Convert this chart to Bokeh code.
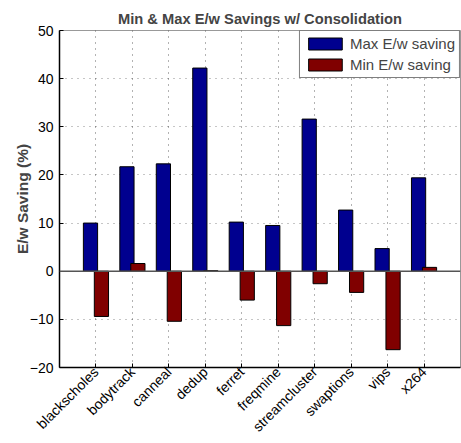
import math
from bokeh.plotting import figure
from bokeh.models import ColumnDataSource, FixedTicker, Span, Range1d, Legend, LegendItem
from bokeh.transform import dodge
from bokeh.embed import file_html
from bokeh.resources import INLINE

categories = ["blackscholes", "bodytrack", "canneal", "dedup", "ferret",
              "freqmine", "streamcluster", "swaptions", "vips", "x264"]
max_saving = [10.0, 21.7, 22.3, 42.2, 10.2, 9.5, 31.6, 12.7, 4.7, 19.4]
min_saving = [-9.4, 1.6, -10.4, 0.1, -6.0, -11.3, -2.6, -4.4, -16.3, 0.8]
y_ticks = [-20, -10, 0, 10, 20, 30, 40, 50]

FONT = "Liberation Sans"
BLUE = "#00008F"
RED = "#800000"

pos = list(range(1, len(categories) + 1))
src = ColumnDataSource(dict(x=pos, mx=max_saving, mn=min_saving))

p = figure(width=461, height=443, output_backend="svg", toolbar_location=None,
           x_range=Range1d(0, len(categories) + 1), y_range=Range1d(y_ticks[0], y_ticks[-1]),
           min_border_left=59, min_border_right=1, min_border_top=30,
           min_border_bottom=75,
           title="Min & Max E/w Savings w/ Consolidation")

p.title.text_font = FONT
p.title.text_font_size = "14.7px"
p.title.text_font_style = "bold"
p.title.align = "center"
p.title.standoff = 8

r_max = p.vbar(x=dodge("x", -0.15, range=p.x_range), top="mx", bottom=0, width=0.39,
               source=src, fill_color=BLUE, line_color="black", line_width=1)
r_min = p.vbar(x=dodge("x", 0.15, range=p.x_range), top="mn", bottom=0, width=0.39,
               source=src, fill_color=RED, line_color="black", line_width=1)

p.add_layout(Span(location=0, dimension="width", line_color="#555555", line_width=1.5))

# axes
p.xaxis.ticker = FixedTicker(ticks=pos)
p.xaxis.major_label_overrides = {i: c for i, c in zip(pos, categories)}
p.xaxis.major_label_orientation = math.pi / 4
p.xaxis.major_label_standoff = 2
p.yaxis.ticker = FixedTicker(ticks=y_ticks)
p.yaxis.major_label_overrides = {t: (("\u2212" + str(-t)) if t < 0 else str(t)) for t in y_ticks}
p.yaxis.axis_label = "E/w Saving (%)"
p.yaxis.axis_label_text_font = FONT
p.yaxis.axis_label_text_font_style = "bold"
p.yaxis.axis_label_text_font_size = "15.5px"
p.yaxis.axis_label_standoff = -4
p.yaxis.major_label_standoff = 6

for ax in (p.xaxis, p.yaxis):
    ax.major_label_text_font = FONT
    ax.major_label_text_font_size = "14px"
    ax.major_label_text_color = "black"
    ax.axis_line_color = "black"
    ax.axis_line_width = 1.5
    ax.major_tick_in = 4
    ax.major_tick_out = 0
    ax.major_tick_line_color = "black"
    ax.minor_tick_line_color = None

p.xgrid.grid_line_color = "black"
p.ygrid.grid_line_color = "black"
p.xgrid.grid_line_alpha = 0.6
p.ygrid.grid_line_alpha = 0.45
p.xgrid.grid_line_dash = "1 5"
p.ygrid.grid_line_dash = "1 5"

p.outline_line_color = "#999999"
p.outline_line_width = 1

legend = Legend(items=[LegendItem(label="Max E/w saving", renderers=[r_max]),
                       LegendItem(label="Min E/w saving", renderers=[r_min])],
                location="top_right")
legend.label_text_font = FONT
legend.label_text_font_size = "15px"
legend.glyph_width = 42
legend.glyph_height = 15
legend.label_height = 15
legend.spacing = 4
legend.padding = 4
legend.margin = 0
legend.border_line_color = "black"
legend.border_line_width = 1
legend.background_fill_alpha = 1
legend.label_standoff = 4
p.add_layout(legend)

open("out.html", "w").write(file_html(p, INLINE))
